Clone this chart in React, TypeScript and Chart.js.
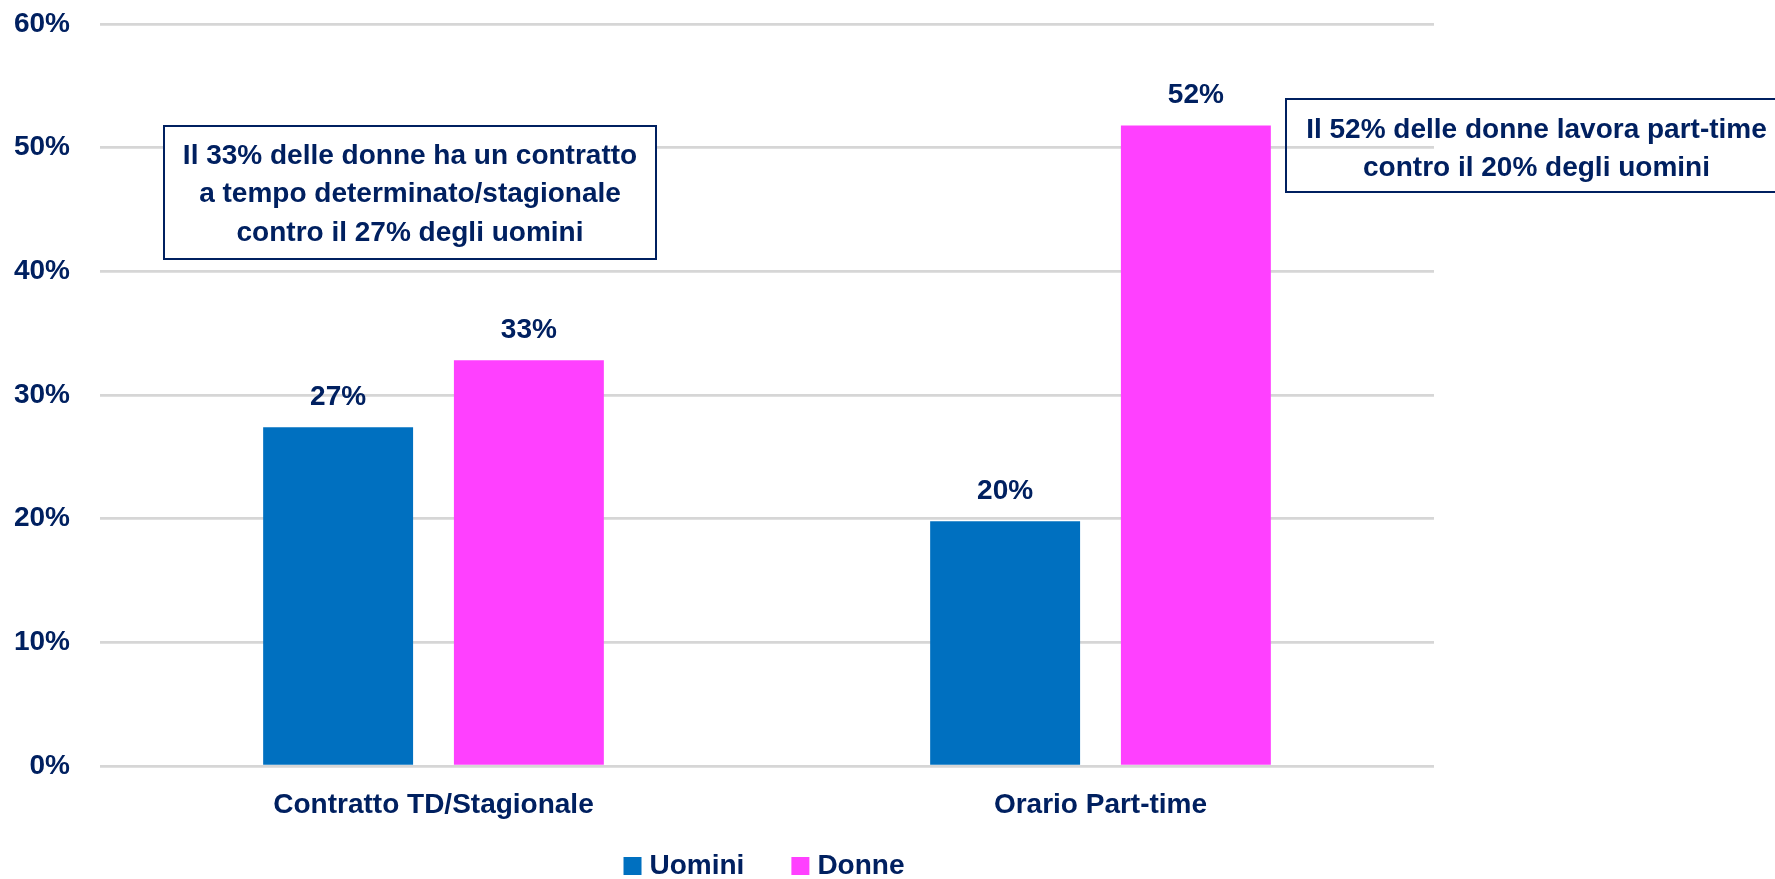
import React, { useEffect, useRef } from "react";
import { Chart, registerables } from "chart.js";

Chart.register(...registerables);

const categories = ["Contratto TD/Stagionale", "Orario Part-time"];
const seriesNames = ["Uomini", "Donne"];
const uominiValues = [27.4, 19.8];
const donneValues = [32.8, 51.8];
const yMin = 0;
const yMax = 60;
const yStep = 10;
const noteLeft = [
  "Il 33% delle donne ha un contratto",
  "a tempo determinato/stagionale",
  "contro il 27% degli uomini",
];
const noteRight = [
  "Il 52% delle donne lavora part-time",
  "contro il 20% degli uomini",
];

const FAMILY = '"Liberation Sans", Arial, sans-serif';
const NAVY = "#002060";
const BLUE = "#0070C0";
const PINK = "#FF40FF";
const GRID = "#D6D6D6";

const valueLabels = {
  id: "valueLabels",
  afterDatasetsDraw(chart: any) {
    const ctx = chart.ctx;
    ctx.save();
    ctx.font = `bold 28px ${FAMILY}`;
    ctx.fillStyle = NAVY;
    ctx.textAlign = "center";
    ctx.textBaseline = "middle";
    chart.data.datasets.forEach((ds: any, di: number) => {
      const meta = chart.getDatasetMeta(di);
      meta.data.forEach((bar: any, i: number) => {
        ctx.fillText(Math.round(ds.data[i]) + "%", bar.x, bar.y - 30);
      });
    });
    ctx.restore();
  },
};

const notesPlugin = {
  id: "notes",
  afterDatasetsDraw(chart: any) {
    const ctx = chart.ctx;
    ctx.save();
    const drawNote = (
      lines: string[],
      x0: number,
      y0: number,
      w: number,
      h: number,
      firstY: number,
      step: number,
      fill: boolean
    ) => {
      if (fill) {
        ctx.fillStyle = "#FFFFFF";
        ctx.fillRect(x0, y0, w, h);
      }
      ctx.strokeStyle = NAVY;
      ctx.lineWidth = 2;
      ctx.strokeRect(x0, y0, w, h);
      ctx.fillStyle = NAVY;
      ctx.font = `bold 28px ${FAMILY}`;
      ctx.textAlign = "center";
      ctx.textBaseline = "middle";
      lines.forEach((t, i) => ctx.fillText(t, x0 + w / 2, firstY + i * step));
    };
    drawNote(noteLeft, 164, 126, 492, 133, 156, 38.5, true);
    drawNote(noteRight, 1286, 99, 501, 93, 130, 38, false);
    ctx.restore();
  },
};

const legendPlugin = {
  id: "customLegend",
  afterDraw(chart: any) {
    const ctx = chart.ctx;
    ctx.save();
    ctx.font = `bold 28px ${FAMILY}`;
    ctx.textBaseline = "middle";
    ctx.textAlign = "left";
    const box = 18;
    const gap = 8;
    const itemGap = 47;
    const items = chart.data.datasets.map((ds: any) => ({
      label: ds.label,
      color: ds.backgroundColor,
      w: box + gap + ctx.measureText(ds.label).width,
    }));
    const total =
      items.reduce((s: number, it: any) => s + it.w, 0) +
      itemGap * (items.length - 1);
    const ca = chart.chartArea;
    let x = (ca.left + ca.right) / 2 - 3 - total / 2;
    const cy = 866;
    items.forEach((it: any) => {
      ctx.fillStyle = it.color;
      ctx.fillRect(x, cy - box / 2, box, box);
      ctx.fillStyle = NAVY;
      ctx.fillText(it.label, x + box + gap, cy);
      x += it.w + itemGap;
    });
    ctx.restore();
  },
};

export default function App() {
  const canvasRef = useRef<HTMLCanvasElement | null>(null);

  useEffect(() => {
    if (!canvasRef.current) return;
    const chart = new Chart(canvasRef.current, {
      type: "bar",
      data: {
        labels: categories,
        datasets: [
          {
            label: seriesNames[0],
            data: uominiValues,
            backgroundColor: BLUE,
            categoryPercentage: 0.572,
            barPercentage: 0.786,
          },
          {
            label: seriesNames[1],
            data: donneValues,
            backgroundColor: PINK,
            categoryPercentage: 0.572,
            barPercentage: 0.786,
          },
        ],
      },
      options: {
        animation: false,
        responsive: true,
        maintainAspectRatio: false,
        layout: { padding: { top: 24, right: 341, left: 0, bottom: 0 } },
        plugins: {
          legend: { display: false },
          tooltip: { enabled: false },
        },
        scales: {
          x: {
            grid: { display: false, drawTicks: false },
            border: { display: false },
            ticks: {
              color: NAVY,
              padding: 22,
              font: { family: FAMILY, size: 28, weight: "bold" },
            },
            afterFit: (s: any) => {
              s.height = 113;
            },
          },
          y: {
            min: yMin,
            max: yMax,
            grid: { color: GRID, lineWidth: 2.7, drawTicks: false },
            border: { display: false },
            ticks: {
              stepSize: yStep,
              color: NAVY,
              padding: 30,
              font: { family: FAMILY, size: 28, weight: "bold" },
              callback: (v: any) => v + "%",
            },
            afterFit: (s: any) => {
              s.width = 100;
              s.paddingTop = 0;
              s.paddingBottom = 0;
            },
          },
        },
      },
      plugins: [valueLabels, notesPlugin, legendPlugin],
    });
    return () => chart.destroy();
  }, []);

  return (
    <div
      style={{
        position: "fixed",
        left: 0,
        top: 0,
        width: 1775,
        height: 879,
        background: "#FFFFFF",
      }}
    >
      <canvas ref={canvasRef} />
    </div>
  );
}
